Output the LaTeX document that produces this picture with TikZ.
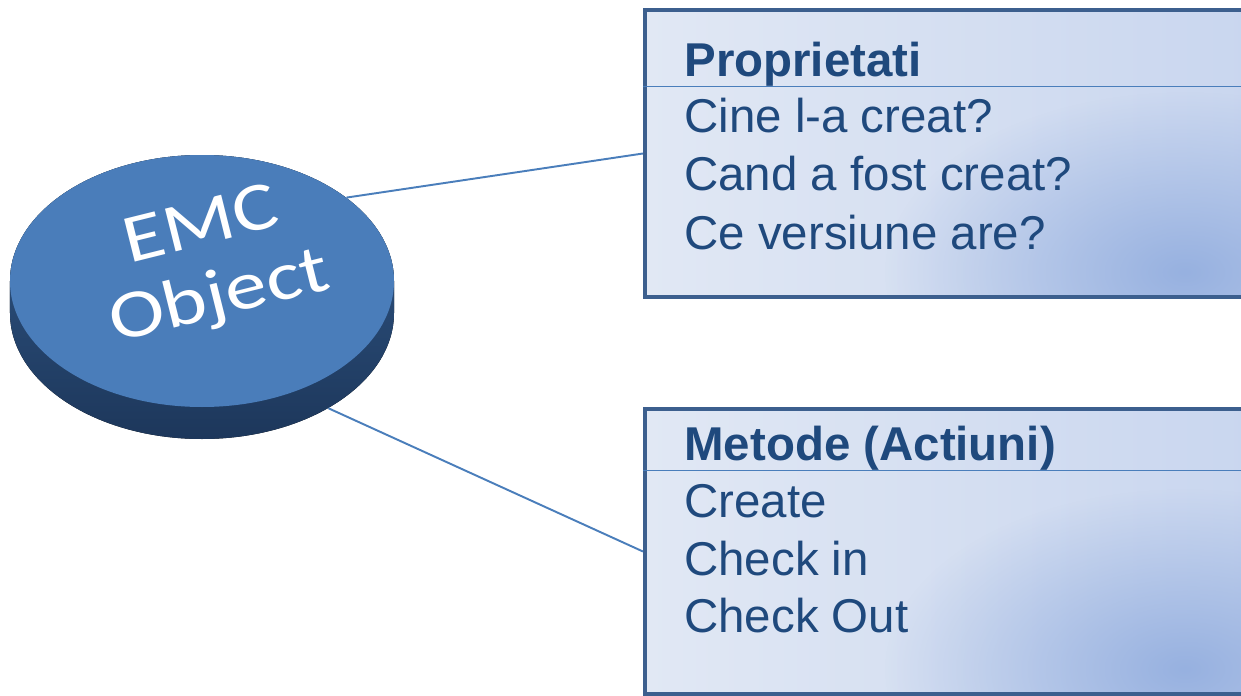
\documentclass[tikz,border=0pt]{standalone}
\usepackage{fontspec}
\setmainfont{Liberation Sans}
\newfontfamily\discfont{Carlito}
\usetikzlibrary{shapes.geometric,fadings}

\definecolor{discface}{HTML}{4A7DBA}
\definecolor{discside}{HTML}{325A8A}
\definecolor{discdeep}{HTML}{1D375B}
\definecolor{boxedge}{HTML}{3C5F8E}
\definecolor{boxlight}{HTML}{E1E8F4}
\definecolor{boxmid}{HTML}{C9D6EF}
\definecolor{boxdark}{HTML}{97B1E0}
\definecolor{linkblue}{HTML}{4A7EBB}
\definecolor{textblue}{HTML}{1F497D}

\tikzfading[name=spotfade, inner color=transparent!0, outer color=transparent!100]

\tikzset{
  infobox/.style={draw=boxedge, line width=2.3pt, inner sep=0pt, minimum width=12.1cm,
    path picture={
      \shade[left color=boxlight, right color=boxmid] (path picture bounding box.south west) rectangle (path picture bounding box.north east);
      \fill[boxdark, path fading=spotfade] ([shift={(-1.3cm,0.5cm)}]path picture bounding box.south east) ellipse (6cm and 3.6cm);
    }},
  hdrline/.style={draw=linkblue, line width=1pt},
  titletext/.style={anchor=base west, text=textblue, inner sep=0pt, font=\fontsize{27}{32}\selectfont\bfseries},
  itemtext/.style={anchor=base west, text=textblue, inner sep=0pt, font=\fontsize{27}{32}\selectfont},
  link/.style={draw=linkblue, line width=1.1pt},
  disc/.style={ellipse, minimum width=7.68cm, minimum height=5.04cm, inner sep=0pt},
}

\begin{document}
\begin{tikzpicture}
    \useasboundingbox (0,0) rectangle (24.82,13.9);
    % disc side and face
    \fill[top color=discside, bottom color=discdeep] (0.2,8.28) -- (0.2,7.64) arc[start angle=180, end angle=360, x radius=3.84, y radius=2.52] -- (7.88,8.28) arc[start angle=0, end angle=180, x radius=3.84, y radius=2.52] -- cycle;
    \node[disc] (objbase) at (4.04,7.64) {};
    \node[disc, fill=discface] (obj) at (4.04,8.28) {};
    \node[rotate=14, xscale=1.22, text=white, align=center, inner sep=0pt, font=\discfont\fontsize{39}{42}\selectfont] (objlabel) at (4.22,8.62) {EMC\\Object};
    % boxes
    \node[infobox, minimum height=5.74cm] (prop) at (18.95,10.83) {};
    \node[infobox, minimum height=5.7cm] (meth) at (18.95,2.87) {};
    \draw[hdrline] ([yshift=-1.57cm]prop.north west) -- ([yshift=-1.57cm]prop.north east);
    \draw[hdrline] ([yshift=-1.27cm]meth.north west) -- ([yshift=-1.27cm]meth.north east);
    % connectors
    \draw[link] (obj.30) -- (prop.west);
    \draw[link] (objbase.-37) -- (meth.west);
    % texts
    \node[titletext] (propTitle) at (13.68,12.36) {Proprietati};
    \node[itemtext] (propA) at (13.68,11.26) {Cine l-a creat?};
    \node[itemtext] (propB) at (13.68,10.10) {Cand a fost creat?};
    \node[itemtext] (propC) at (13.68,8.92) {Ce versiune are?};
    \node[titletext] (methTitle) at (13.68,4.70) {Metode (Actiuni)};
    \node[itemtext] (methA) at (13.68,3.55) {Create};
    \node[itemtext] (methB) at (13.68,2.40) {Check in};
    \node[itemtext] (methC) at (13.68,1.25) {Check Out};
\end{tikzpicture}
\end{document}
